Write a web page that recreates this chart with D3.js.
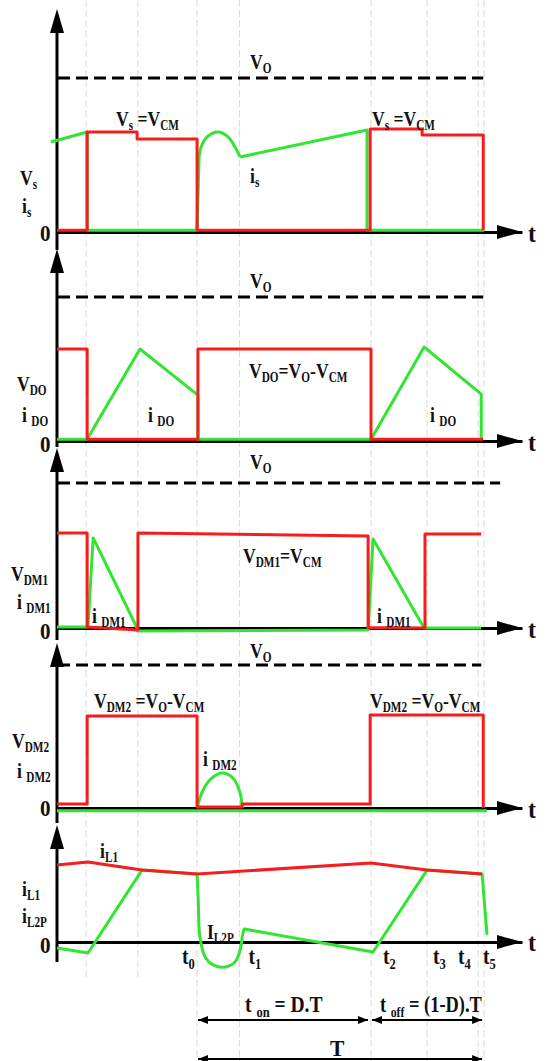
<!DOCTYPE html>
<html><head><meta charset="utf-8">
<script src="https://cdn.jsdelivr.net/npm/d3@7"></script>
<style>html,body{margin:0;padding:0;background:#fff;}svg{display:block;}text{white-space:pre;}</style>
</head><body><div id="chart"></div>
<script>
// ---------------- DATA (time in fractions of the switching period T; t0 = 0, t5 = T) -------------
const tickLabels = ["t_{0}", "t_{1}", "t_{2}", "t_{3}", "t_{4}", "t_{5}"];
const tickTimes  = [0, 0.148, 0.606, 0.801, 0.979, 1.0];
const prevTimes  = [-0.387, -0.206];           // t2 and t3 of the previous period

// values are normalised to V_O = 1 (panel 5 uses the same unit height)
const vS = [[-0.488,0.012],[-0.383,0.012],[-0.383,0.649],[-0.209,0.649],[-0.209,0.604],[0,0.604],[0,0.012],
            [0.603,0.012],[0.603,0.669],[0.784,0.669],[0.784,0.630],[0.997,0.630],[0.997,0.012]];
const iS = [[-0.509,0.584],[-0.383,0.649],[-0.383,0.012],[0,0.012],[0.007,0.487]];
const iSArc = [[0.007,0.487],[0.014,0.552],[0.035,0.617],[0.073,0.649],[0.108,0.617],[0.132,0.552],[0.150,0.487]];
const iS2 = [[0.150,0.487],[0.592,0.662],[0.592,0.012],[1.0,0.012]];

const vDO = [[-0.488,0.639],[-0.383,0.639],[-0.383,0.012],[0.003,0.012],[0.003,0.639],[0.606,0.639],[0.606,0.012],[0.997,0.012]];
const iDO = [[-0.488,0.012],[-0.383,0.012],[-0.199,0.639],[0.003,0.319],[0.003,0.012],[0.606,0.012],
             [0.791,0.653],[0.990,0.326],[0.990,0.012]];

const vDM1 = [[-0.488,0.655],[-0.383,0.655],[-0.383,0.007],[-0.206,-0.014],[-0.206,0.655],[0.596,0.634],
              [0.596,0.003],[0.794,0.0],[0.794,0.648],[0.990,0.648]];
const iDM1 = [[-0.488,0.007],[-0.380,0.007],[-0.362,0.621],[-0.209,0.0],[-0.206,-0.021],[0.596,-0.014],
              [0.613,0.614],[0.791,0.0],[0.990,0.0]];

const vDM2 = [[-0.488,0.028],[-0.383,0.028],[-0.383,0.643],[0,0.643],[0,0.007],[0.157,0.007],[0.157,0.028],
              [0.603,0.028],[0.603,0.650],[0.997,0.650],[0.997,0]];
const iDM2 = [[-0.488,-0.02],[1.01,-0.02]];
const iDM2Arc = [[0,0],[0.021,0.126],[0.052,0.210],[0.087,0.245],[0.125,0.210],[0.150,0.105],[0.157,0]];

const iL1 = [[-0.488,0.538],[-0.380,0.559],[-0.192,0.503],[0,0.476],[0.606,0.552],[0.801,0.503],[0.993,0.476]];
const iL2 = [[-0.488,-0.042],[-0.380,-0.077],[-0.192,0.503],[0,0.476]];
const iL2Arc = [[0,0.476],[0.004,0.30],[0.010,0.035],[0.028,-0.105],[0.056,-0.16],[0.098,-0.175],[0.132,-0.14],[0.150,-0.056],[0.157,0.035]];
const iL2b = [[0.157,0.035],[0.164,0.091],[0.613,-0.070],[0.801,0.503],[0.993,0.476],[1.010,0.049]];

const voEnds = [0.997, 0.997, 1.056, 0.990];   // extent of the dashed V_O reference lines

// ---------------- LAYOUT -------------
const W = 547, H = 1061;
const RED = "#f51d1d", GREEN = "#33e533";
const panels = [
  {tip: 9,   zero: 232, one: 78,  bottom: 250, vo: true},
  {tip: 249, zero: 441, one: 297, bottom: 447, vo: true},
  {tip: 448, zero: 628, one: 483, bottom: 640, vo: true},
  {tip: 643, zero: 808, one: 665, bottom: 823, vo: true},
  {tip: 825, zero: 942, one: 799, bottom: 962, vo: false}
];
const traces = [
  [{d: iS, c: GREEN}, {d: iSArc, c: GREEN, curve: true}, {d: iS2, c: GREEN}, {d: vS, c: RED}],
  [{d: iDO, c: GREEN}, {d: vDO, c: RED}],
  [{d: iDM1, c: GREEN}, {d: vDM1, c: RED}],
  [{d: iDM2, c: GREEN}, {d: iDM2Arc, c: GREEN, curve: true}, {d: vDM2, c: RED}],
  [{d: iL2, c: GREEN}, {d: iL2Arc, c: GREEN, curve: true}, {d: iL2b, c: GREEN}, {d: iL1, c: RED}]
];
const labels = [
  ["V_{O}", 250, 69], ["V_{s} =V_{CM}", 116, 126], ["V_{s} =V_{CM}", 372, 126], ["i_{s}", 250, 183],
  ["V_{s}", 20, 185], ["i_{s}", 22, 213],
  ["V_{O}", 250, 288], ["V_{DO}=V_{O}-V_{CM}", 249, 378], ["i _{DO}", 148, 422], ["i _{DO}", 430, 422],
  ["V_{DO}", 17, 391], ["i _{DO}", 22, 422],
  ["V_{O}", 250, 469], ["V_{DM1}=V_{CM}", 243, 563], ["i _{DM1}", 92, 623], ["i _{DM1}", 377, 623],
  ["V_{DM1}", 11, 581], ["i _{DM1}", 17, 609],
  ["V_{O}", 250, 658], ["V_{DM2} =V_{O}-V_{CM}", 94, 708], ["V_{DM2} =V_{O}-V_{CM}", 370, 708], ["i _{DM2}", 203, 766],
  ["V_{DM2}", 12, 748], ["i _{DM2}", 17, 778],
  ["i_{L1}", 100, 858], ["I_{L2P}", 207, 939], ["i_{L1}", 22, 896], ["i_{L2P}", 22, 923]
];
const zeroBaselines = [241, 452, 639, 816, 953];
const tBaselines = [242, 451, 638, 818, 951];

// ---------------- DRAW -------------
const svg = d3.select("#chart").append("svg").attr("width", W).attr("height", H)
  .style("font-family", "'Liberation Serif','Times New Roman',serif").style("font-weight", "bold");

const x = d3.scaleLinear().domain([-0.488, 1.132]).range([57, 522]);

function rich(sel, str, px, py, size, sx) {
  const t = sel.append("text").attr("transform", `translate(${px},${py}) scale(${sx},1)`)
    .attr("font-size", size).attr("fill", "#111");
  const parts = str.split(/(_\{[^}]*\})/).filter(s => s.length);
  let inSub = false;
  parts.forEach(p => {
    if (p.startsWith("_{")) {
      t.append("tspan").attr("font-size", size * 0.64).attr("dy", size * 0.2).text(p.slice(2, -1));
      inSub = true;
    } else {
      t.append("tspan").attr("dy", inSub ? -size * 0.2 : 0).text(p);
      inSub = false;
    }
  });
  return t;
}

// gridlines
const grid = svg.append("g").attr("stroke", "#dadada").attr("stroke-width", 1).attr("stroke-dasharray", "7,3");
prevTimes.forEach(t => grid.append("line").attr("x1", x(t)).attr("x2", x(t)).attr("y1", 0).attr("y2", 978));
tickTimes.forEach(t => grid.append("line").attr("x1", x(t)).attr("x2", x(t)).attr("y1", 0).attr("y2", H));

panels.forEach((p, i) => {
  const y = d3.scaleLinear().domain([0, 1]).range([p.zero, p.one]);
  const g = svg.append("g");
  if (p.vo) {
    g.append("line").attr("x1", 58).attr("x2", x(voEnds[i])).attr("y1", y(1)).attr("y2", y(1))
      .attr("stroke", "#000").attr("stroke-width", 3).attr("stroke-dasharray", "12,6");
  }
  const ax = g.append("g").attr("transform", `translate(0,${p.zero})`)
    .call(d3.axisBottom(x).tickValues([]).tickSizeOuter(0));
  ax.select(".domain").attr("stroke", "#000").attr("stroke-width", 3);
  g.append("path").attr("d", `M522,${p.zero} L497,${p.zero - 7} L497,${p.zero + 7} Z`).attr("fill", "#000");
  g.append("line").attr("x1", 57).attr("x2", 57).attr("y1", p.tip + 10).attr("y2", p.bottom)
    .attr("stroke", "#000").attr("stroke-width", 3);
  g.append("path").attr("d", `M57,${p.tip} L50,${p.tip + 24} L64,${p.tip + 24} Z`).attr("fill", "#000");
  traces[i].forEach(tr => {
    const line = d3.line().x(d => x(d[0])).y(d => y(d[1]))
      .curve(tr.curve ? d3.curveCatmullRom.alpha(0.5) : d3.curveLinear);
    g.append("path").datum(tr.d).attr("d", line).attr("fill", "none")
      .attr("stroke", tr.c).attr("stroke-width", 3).attr("stroke-linejoin", "round");
  });
  rich(g, "0", 40, zeroBaselines[i], 24, 0.88);
  rich(g, "t", 528, tBaselines[i], 26, 0.92);
});

labels.forEach(l => rich(svg, l[0], l[1], l[2], 22, 0.8));

const tickOffsets = [-15, 9, 12, 6, -20, -1];
tickLabels.forEach((s, i) => rich(svg, s, x(tickTimes[i]) + tickOffsets[i], 964, 23, 0.85));

const defs = svg.append("defs");
defs.append("marker").attr("id", "ah").attr("viewBox", "0 0 10 8").attr("refX", 10).attr("refY", 4)
  .attr("markerWidth", 10).attr("markerHeight", 8).attr("markerUnits", "userSpaceOnUse")
  .attr("orient", "auto-start-reverse")
  .append("path").attr("d", "M0,0 L10,4 L0,8 Z").attr("fill", "#000");
const spans = [
  [tickTimes[0], tickTimes[2], 1020, 1, -3],
  [tickTimes[2], tickTimes[5], 1020, 1, -2],
  [tickTimes[0], tickTimes[5], 1059, 1, -2]
];
spans.forEach(s => svg.append("line").attr("x1", x(s[0]) + s[3]).attr("x2", x(s[1]) + s[4])
  .attr("y1", s[2]).attr("y2", s[2]).attr("stroke", "#000").attr("stroke-width", 2)
  .attr("marker-start", "url(#ah)").attr("marker-end", "url(#ah)"));
rich(svg, "t _{on} = D.T", 245, 1012, 23, 0.85);
rich(svg, "t _{off} = (1-D).T", 380, 1012, 23, 0.8);
rich(svg, "T", 330, 1056, 24, 0.9);
</script></body></html>
